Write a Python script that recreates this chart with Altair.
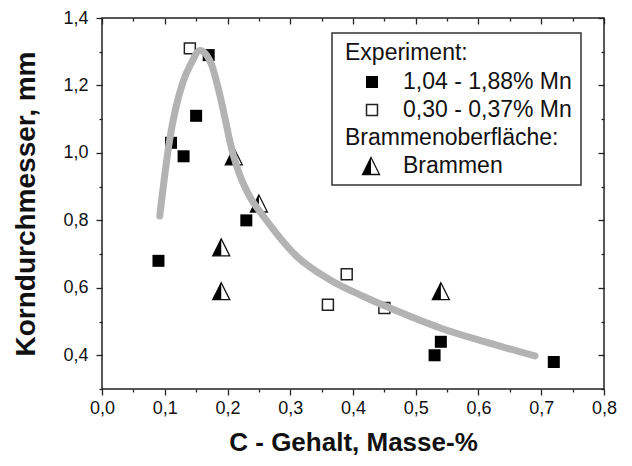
import altair as alt
import pandas as pd

# ---- data ----
filled_x = [0.09, 0.11, 0.13, 0.15, 0.17, 0.23, 0.53, 0.54, 0.72]
filled_y = [0.68, 1.03, 0.99, 1.11, 1.29, 0.80, 0.40, 0.44, 0.38]

open_x = [0.14, 0.36, 0.39, 0.45]
open_y = [1.31, 0.55, 0.64, 0.54]

tri_x = [0.19, 0.19, 0.21, 0.25, 0.54]
tri_y = [0.59, 0.72, 0.99, 0.85, 0.59]

curve_x = [0.092, 0.108, 0.129, 0.142, 0.156, 0.174, 0.188, 0.209, 0.220, 0.235,
           0.257, 0.310, 0.363, 0.416, 0.459, 0.539, 0.608, 0.690]
curve_y = [0.813, 1.041, 1.21, 1.265, 1.304, 1.265, 1.17, 0.995, 0.932, 0.872,
           0.813, 0.694, 0.624, 0.575, 0.540, 0.481, 0.441, 0.398]

x_major = [0.0, 0.1, 0.2, 0.3, 0.4, 0.5, 0.6, 0.7, 0.8]
x_minor = [0.05, 0.15, 0.25, 0.35, 0.45, 0.55, 0.65, 0.75]
y_major = [0.4, 0.6, 0.8, 1.0, 1.2, 1.4]
y_minor = [0.3, 0.5, 0.7, 0.9, 1.1, 1.3]

legend_head1 = "Experiment:"
legend_item1 = "1,04 - 1,88% Mn"
legend_item2 = "0,30 - 0,37% Mn"
legend_head2 = "Brammenoberfläche:"
legend_item3 = "Brammen"

x_title = "C - Gehalt, Masse-%"
y_title = "Korndurchmesser, mm"

FONT = "Liberation Sans"
W, H = 502, 371
TRI = "M0,-1L1,1L-1,1Z"
HALF = "M0,-1L0,1L-1,1Z"
INK = "#111111"

xs = alt.Scale(domain=[0, 0.8], nice=False, zero=False)
ys = alt.Scale(domain=[0.3, 1.4], nice=False, zero=False)
lab = "replace(format(datum.value, '.1f'), '.', ',')"

curve_df = pd.DataFrame({"x": curve_x, "y": curve_y})
filled_df = pd.DataFrame({"x": filled_x, "y": filled_y})
open_df = pd.DataFrame({"x": open_x, "y": open_y})
tri_df = pd.DataFrame({"x": tri_x, "y": tri_y})
one = pd.DataFrame({"k": [0]})


def X(axis):
    return alt.X("x:Q", scale=xs, axis=axis)


def Y(axis):
    return alt.Y("y:Q", scale=ys, axis=axis)


common = dict(domain=False, grid=False, tickColor="#222", tickWidth=1.3)

ax_bottom = alt.Axis(orient="bottom", values=x_major, labelExpr=lab, tickSize=6,
                     labelFont=FONT, labelFontSize=18, labelColor=INK, labelPadding=4,
                     labelFlush=False, labelOverlap=False,
                     title=x_title, titleFont=FONT, titleFontSize=26, titleFontWeight="bold",
                     titleColor=INK, titlePadding=12, **common)
ax_bottom_minor = alt.Axis(orient="bottom", values=x_minor, tickSize=3, labels=False, title=" ", **common)
ax_top = alt.Axis(orient="top", values=x_major, tickSize=6, offset=-6, labels=False, title=" ", **common)
ax_top_minor = alt.Axis(orient="top", values=x_minor, tickSize=3, offset=-3, labels=False, title=" ", **common)

ax_left = alt.Axis(orient="left", values=y_major, labelExpr=lab, tickSize=6,
                   labelFont=FONT, labelFontSize=18, labelColor=INK, labelPadding=8,
                   labelFlush=False, labelOverlap=False,
                   title=y_title, titleFont=FONT, titleFontSize=28, titleFontWeight="bold",
                   titleColor=INK, titlePadding=22, **common)
ax_left_minor = alt.Axis(orient="left", values=y_minor, tickSize=3, labels=False, title=" ", **common)
ax_right = alt.Axis(orient="right", values=y_major, tickSize=6, offset=-6, labels=False, title=" ", **common)
ax_right_minor = alt.Axis(orient="right", values=y_minor, tickSize=3, offset=-3, labels=False, title=" ", **common)

axis_layers = [
    alt.Chart(curve_df).mark_point(opacity=0).encode(x=X(ax_bottom), y=Y(ax_left)),
    alt.Chart(curve_df).mark_point(opacity=0).encode(x=X(ax_bottom_minor), y=Y(ax_left_minor)),
    alt.Chart(curve_df).mark_point(opacity=0).encode(x=X(ax_top), y=Y(ax_right)),
    alt.Chart(curve_df).mark_point(opacity=0).encode(x=X(ax_top_minor), y=Y(ax_right_minor)),
]

px = alt.X("x:Q", scale=xs, axis=None)
py = alt.Y("y:Q", scale=ys, axis=None)

filled_pts = alt.Chart(filled_df).mark_point(
    shape="square", filled=True, fill="#000", size=144, opacity=1, strokeWidth=0
).encode(x=px, y=py)

open_pts = alt.Chart(open_df).mark_point(
    shape="square", filled=True, fill="white", stroke="#222", strokeWidth=1.5, size=120, opacity=1
).encode(x=px, y=py)

tri_full = alt.Chart(tri_df).mark_point(
    shape=TRI, filled=True, fill="white", stroke=INK, strokeWidth=1.3, size=289, opacity=1
).encode(x=px, y=py)
tri_half = alt.Chart(tri_df).mark_point(
    shape=HALF, filled=True, fill="#000", strokeWidth=0, size=289, opacity=1
).encode(x=px, y=py)

curve = alt.Chart(curve_df).mark_line(
    color="#b3b3b3", strokeWidth=7, interpolate="monotone", strokeCap="round"
).encode(x=px, y=py)

# ---- legend drawn by hand ----
box = alt.Chart(one).mark_rect(fill="white", stroke="#333", strokeWidth=1.5).encode(
    x=alt.value(230), x2=alt.value(479), y=alt.value(15), y2=alt.value(167))


def txt(s, x, y):
    return alt.Chart(one).mark_text(text=s, align="left", baseline="middle", font=FONT,
                                    fontSize=23, color=INK).encode(x=alt.value(x), y=alt.value(y))


leg = [
    box,
    txt(legend_head1, 243, 35),
    txt(legend_item1, 301, 64),
    txt(legend_item2, 301, 92),
    txt(legend_head2, 243, 120),
    txt(legend_item3, 301, 148),
    alt.Chart(one).mark_point(shape="square", filled=True, fill="#000", size=144, opacity=1,
                              strokeWidth=0).encode(x=alt.value(270), y=alt.value(64)),
    alt.Chart(one).mark_point(shape="square", filled=True, fill="white", stroke="#222",
                              strokeWidth=1.5, size=120, opacity=1).encode(x=alt.value(270), y=alt.value(92)),
    alt.Chart(one).mark_point(shape=TRI, filled=True, fill="white", stroke=INK, strokeWidth=1.3,
                              size=289, opacity=1).encode(x=alt.value(269), y=alt.value(148)),
    alt.Chart(one).mark_point(shape=HALF, filled=True, fill="#000", strokeWidth=0,
                              size=289, opacity=1).encode(x=alt.value(269), y=alt.value(148)),
]

chart = alt.layer(
    *axis_layers, filled_pts, open_pts, tri_full, tri_half, curve, *leg
).resolve_axis(x="independent", y="independent").properties(
    width=W, height=H,
    autosize=alt.AutoSizeParams(type="none"),
    padding={"left": 94, "top": 10, "right": 20, "bottom": 69},
).configure_view(stroke="#222", strokeWidth=1.5)

chart.save("out.html", embed_options={"renderer": "svg", "actions": False})
